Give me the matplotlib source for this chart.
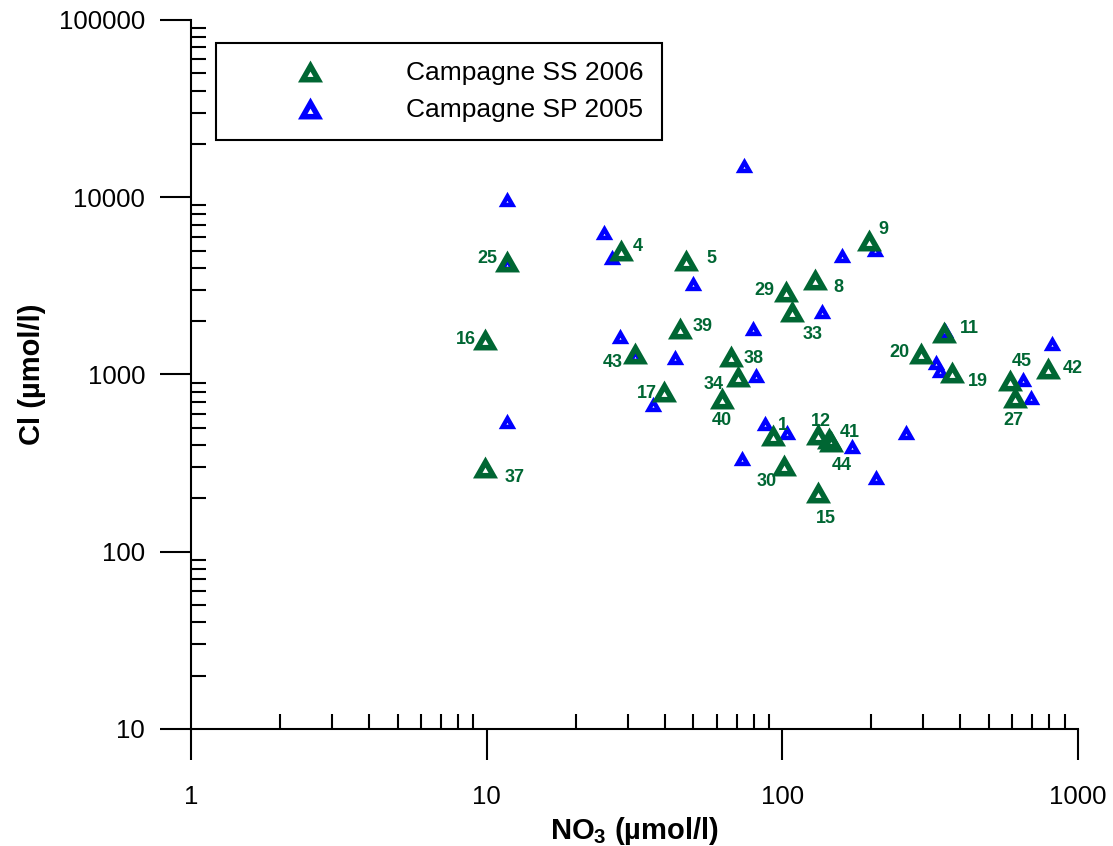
import matplotlib
matplotlib.use("Agg")
import matplotlib.pyplot as plt
from matplotlib.path import Path
from matplotlib.lines import Line2D
from matplotlib.ticker import NullFormatter

plt.rcParams['font.family'] = ['Liberation Sans', 'DejaVu Sans']
plt.rcParams['mathtext.fontset'] = 'custom'
plt.rcParams['mathtext.bf'] = 'Liberation Sans:bold'
plt.rcParams['mathtext.rm'] = 'Liberation Sans'

# Campagne SS 2006 (green, numbered)
ss_labels = ['25', '4', '5', '9', '29', '8', '33', '16', '39', '43', '38', '34', '17', '40',
             '1', '12', '41', '44', '30', '15', '37', '11', '20', '19', '45', '27', '42']
ss_no3 = [11.7, 28.5, 47.2, 196, 103, 129, 108, 9.9, 45, 31.7, 67, 70.8, 39.8, 62.5,
          93, 132, 144, 146, 101, 132, 9.9, 352, 294, 375, 589, 612, 791]
ss_cl = [4370, 5040, 4430, 5740, 2960, 3460, 2280, 1585, 1828, 1321, 1271, 980, 807, 737,
         456, 462, 439, 422, 309, 217, 301, 1738, 1321, 1033, 931, 747, 1089]

# Campagne SP 2005 (blue)
sp_no3 = [11.7, 11.7, 11.7, 74.2, 24.9, 26.5, 49.9, 159, 206, 136, 79.6, 28.2, 31.7, 43.4,
          81.4, 36.5, 87.4, 104, 73, 172, 207, 262, 816, 331, 341, 355, 651, 693]
sp_cl = [9770, 4250, 547, 15200, 6370, 4600, 3280, 4720, 5100, 2280, 1828, 1648, 1288, 1256,
         993, 682, 532, 474, 338, 395, 264, 474, 1507, 1178, 1060, 1782, 944, 747]

x_ticks = [1, 10, 100, 1000]
x_ticklabels = ['1', '10', '100', '1000']
y_ticks = [10, 100, 1000, 10000, 100000]
y_ticklabels = ['10', '100', '1000', '10000', '100000']
series_names = ['Campagne SS 2006', 'Campagne SP 2005']

# label offsets in pixels (dx, dy) relative to the marker
label_offsets = {
    '25': (-19, 2), '4': (17, 3), '5': (25, 1), '9': (15, 10), '29': (-22, 0),
    '8': (23, -9), '33': (20, -23), '16': (-20, 0), '39': (23, 2), '43': (-22, -9),
    '38': (23, -2), '34': (-24, -8), '17': (-17, -3), '40': (0, -23), '1': (10, 9),
    '12': (3, 12), '41': (21, 5), '44': (11, -25), '30': (-17, -17), '15': (8, -26),
    '37': (29, -11), '11': (25, 3), '20': (-21, 1), '19': (26, -10), '45': (12, 18),
    '27': (-2, -24), '42': (25, -1),
}

green = '#006633'
blue = '#0000ff'


def tri_marker(hole):
    w, h = 1.14, 1.0
    cy = -h / 6
    outer = [(0, h / 2), (-w / 2, -h / 2), (w / 2, -h / 2), (0, h / 2)]
    inner = [(0, cy + hole * h * 2 / 3), (hole * w / 2, cy - hole * h / 3),
             (-hole * w / 2, cy - hole * h / 3), (0, cy + hole * h * 2 / 3)]
    codes = [Path.MOVETO, Path.LINETO, Path.LINETO, Path.CLOSEPOLY] * 2
    return Path(outer + inner, codes)


big_tri = tri_marker(0.24)
small_tri = tri_marker(0.12)

fig = plt.figure(figsize=(11.13, 8.46), dpi=100)
ax = fig.add_axes([0.1716, 0.1383, 0.797, 0.8381])
ax.set_xscale('log')
ax.set_yscale('log')

ax.plot(sp_no3, sp_cl, linestyle='none', marker=small_tri, ms=12.6,
        mfc=blue, mec='none', zorder=3)
ax.plot(ss_no3, ss_cl, linestyle='none', marker=big_tri, ms=18,
        mfc=green, mec='none', zorder=4)

for lab, x, y in zip(ss_labels, ss_no3, ss_cl):
    dx, dy = label_offsets[lab]
    ax.annotate(lab, (x, y), xytext=(dx, dy), textcoords='offset pixels',
                ha='center', va='center', fontsize=13, fontweight='bold',
                color=green, zorder=5)

ax.set_xlim(1, 1000)
ax.set_ylim(10, 100000)
ax.set_xticks(x_ticks)
ax.set_xticklabels(x_ticklabels)
ax.set_yticks(y_ticks)
ax.set_yticklabels(y_ticklabels)
ax.xaxis.set_minor_formatter(NullFormatter())
ax.yaxis.set_minor_formatter(NullFormatter())

ax.spines['top'].set_visible(False)
ax.spines['right'].set_visible(False)
for s in ['left', 'bottom']:
    ax.spines[s].set_linewidth(1.5)
ax.tick_params(which='major', direction='out', length=22, width=1.5, labelsize=18.5)
ax.tick_params(axis='x', which='major', pad=18)
ax.tick_params(axis='y', which='major', pad=11)
ax.tick_params(which='minor', direction='in', length=11, width=1.5)

ax.set_xlabel(r'NO$_\mathbf{3}$ (µmol/l)', fontsize=21, fontweight='bold', labelpad=5)
ax.set_ylabel('Cl (µmol/l)', fontsize=21, fontweight='bold', labelpad=9)

handles = [Line2D([], [], linestyle='none', marker=big_tri, ms=18, mfc=green, mec='none'),
           Line2D([], [], linestyle='none', marker=big_tri, ms=18, mfc=blue, mec='none')]
leg = ax.legend(handles, series_names, loc='upper left', bbox_to_anchor=(0.0282, 0.9676),
                borderaxespad=0, fontsize=19, handlelength=5.7, handletextpad=0.8,
                borderpad=0.7, labelspacing=0.47, fancybox=False, framealpha=1,
                edgecolor='black')
leg.get_frame().set_linewidth(1.5)

fig.savefig('out.png', dpi=100)
